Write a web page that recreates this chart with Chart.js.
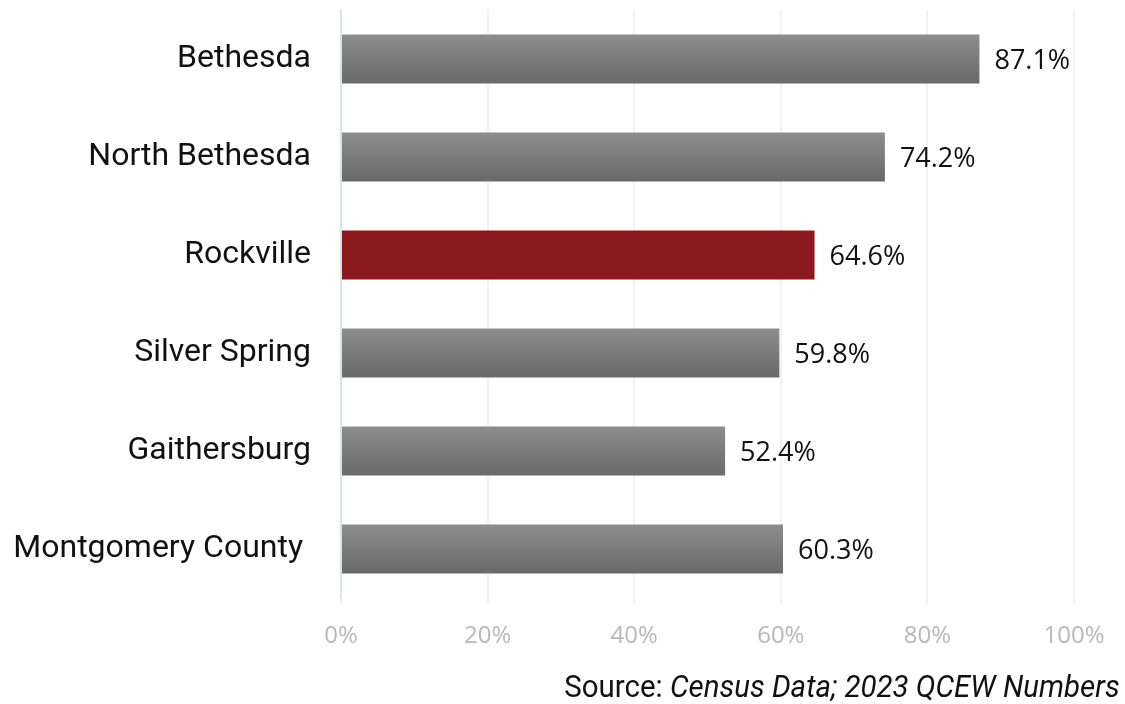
<!DOCTYPE html>
<html>
<head>
<meta charset="utf-8">
<script src="https://cdn.jsdelivr.net/npm/chart.js@4/dist/chart.umd.min.js"></script>
<style>
  html, body { margin: 0; padding: 0; background: #fff; }
  #wrap { position: relative; width: 1125px; height: 704px; }
  #source {
    position: absolute; right: 5px; top: 667px;
    font-family: Roboto, sans-serif; font-size: 32px; color: #111;
    transform: scaleX(0.92); transform-origin: right center; white-space: nowrap;
  }
</style>
</head>
<body>
<div id="wrap">
  <canvas id="chart" width="1125" height="704"></canvas>
  <div id="source">Source: <i>Census Data; 2023 QCEW Numbers</i></div>
</div>
<script>
  // values
  var places = ["Bethesda", "North Bethesda", "Rockville", "Silver Spring", "Gaithersburg", "Montgomery County "];
  var shares = [87.1, 74.2, 64.6, 59.8, 52.4, 60.3];
  var highlight = "Rockville";
  var xTicks = [0, 20, 40, 60, 80, 100];

  // grey bars get a vertical gradient, the highlighted one stays flat red
  function barColor(c) {
    if (places[c.dataIndex] === highlight) return '#8b1a1f';
    var chart = c.chart;
    var y = chart.scales.y;
    if (!chart.chartArea || !y) return '#7c7c7c';
    var step = y.height / places.length;
    var mid = y.getPixelForValue(c.dataIndex);
    var top = mid - step * 0.25;
    var g = chart.ctx.createLinearGradient(0, top, 0, top + step * 0.5);
    g.addColorStop(0, '#8d8d8d');
    g.addColorStop(1, '#696969');
    return g;
  }

  var valueLabels = {
    id: 'valueLabels',
    afterDatasetsDraw: function(chart) {
      var ctx = chart.ctx;
      ctx.save();
      ctx.font = '27px "Open Sans", sans-serif';
      ctx.fillStyle = '#111';
      ctx.textAlign = 'left';
      ctx.textBaseline = 'middle';
      chart.getDatasetMeta(0).data.forEach(function(bar, i) {
        ctx.fillText(shares[i].toFixed(1) + '%', bar.x + 15, bar.y + 2);
      });
      ctx.restore();
    }
  };

  new Chart(document.getElementById('chart'), {
    type: 'bar',
    data: {
      labels: places,
      datasets: [{
        data: shares,
        backgroundColor: barColor,
        categoryPercentage: 1,
        barPercentage: 0.5
      }]
    },
    options: {
      indexAxis: 'y',
      responsive: false,
      animation: false,
      layout: { padding: { top: 10, right: 51, bottom: 46, left: 0 } },
      plugins: { legend: { display: false }, tooltip: { enabled: false } },
      scales: {
        x: {
          min: 0, max: 100,
          afterFit: function(s) { s.height = 60; s.paddingLeft = 0; s.paddingRight = 0; },
          afterBuildTicks: function(s) { s.ticks = xTicks.map(function(v) { return { value: v }; }); },
          ticks: {
            padding: 18,
            color: '#b8b8b8',
            font: { family: '"Open Sans", sans-serif', size: 24 },
            callback: function(v) { return v + '%'; }
          },
          grid: { color: '#f2f2f2', lineWidth: 2, tickLength: 6, drawTicks: true },
          border: { display: false }
        },
        y: {
          afterFit: function(s) { s.width = 341; s.paddingTop = 0; s.paddingBottom = 0; },
          ticks: {
            padding: 22,
            color: '#111',
            font: { family: 'Roboto, sans-serif', size: 32 }
          },
          grid: { display: false },
          border: { color: '#dde2e8', width: 2 }
        }
      }
    },
    plugins: [valueLabels]
  });
</script>
</body>
</html>
